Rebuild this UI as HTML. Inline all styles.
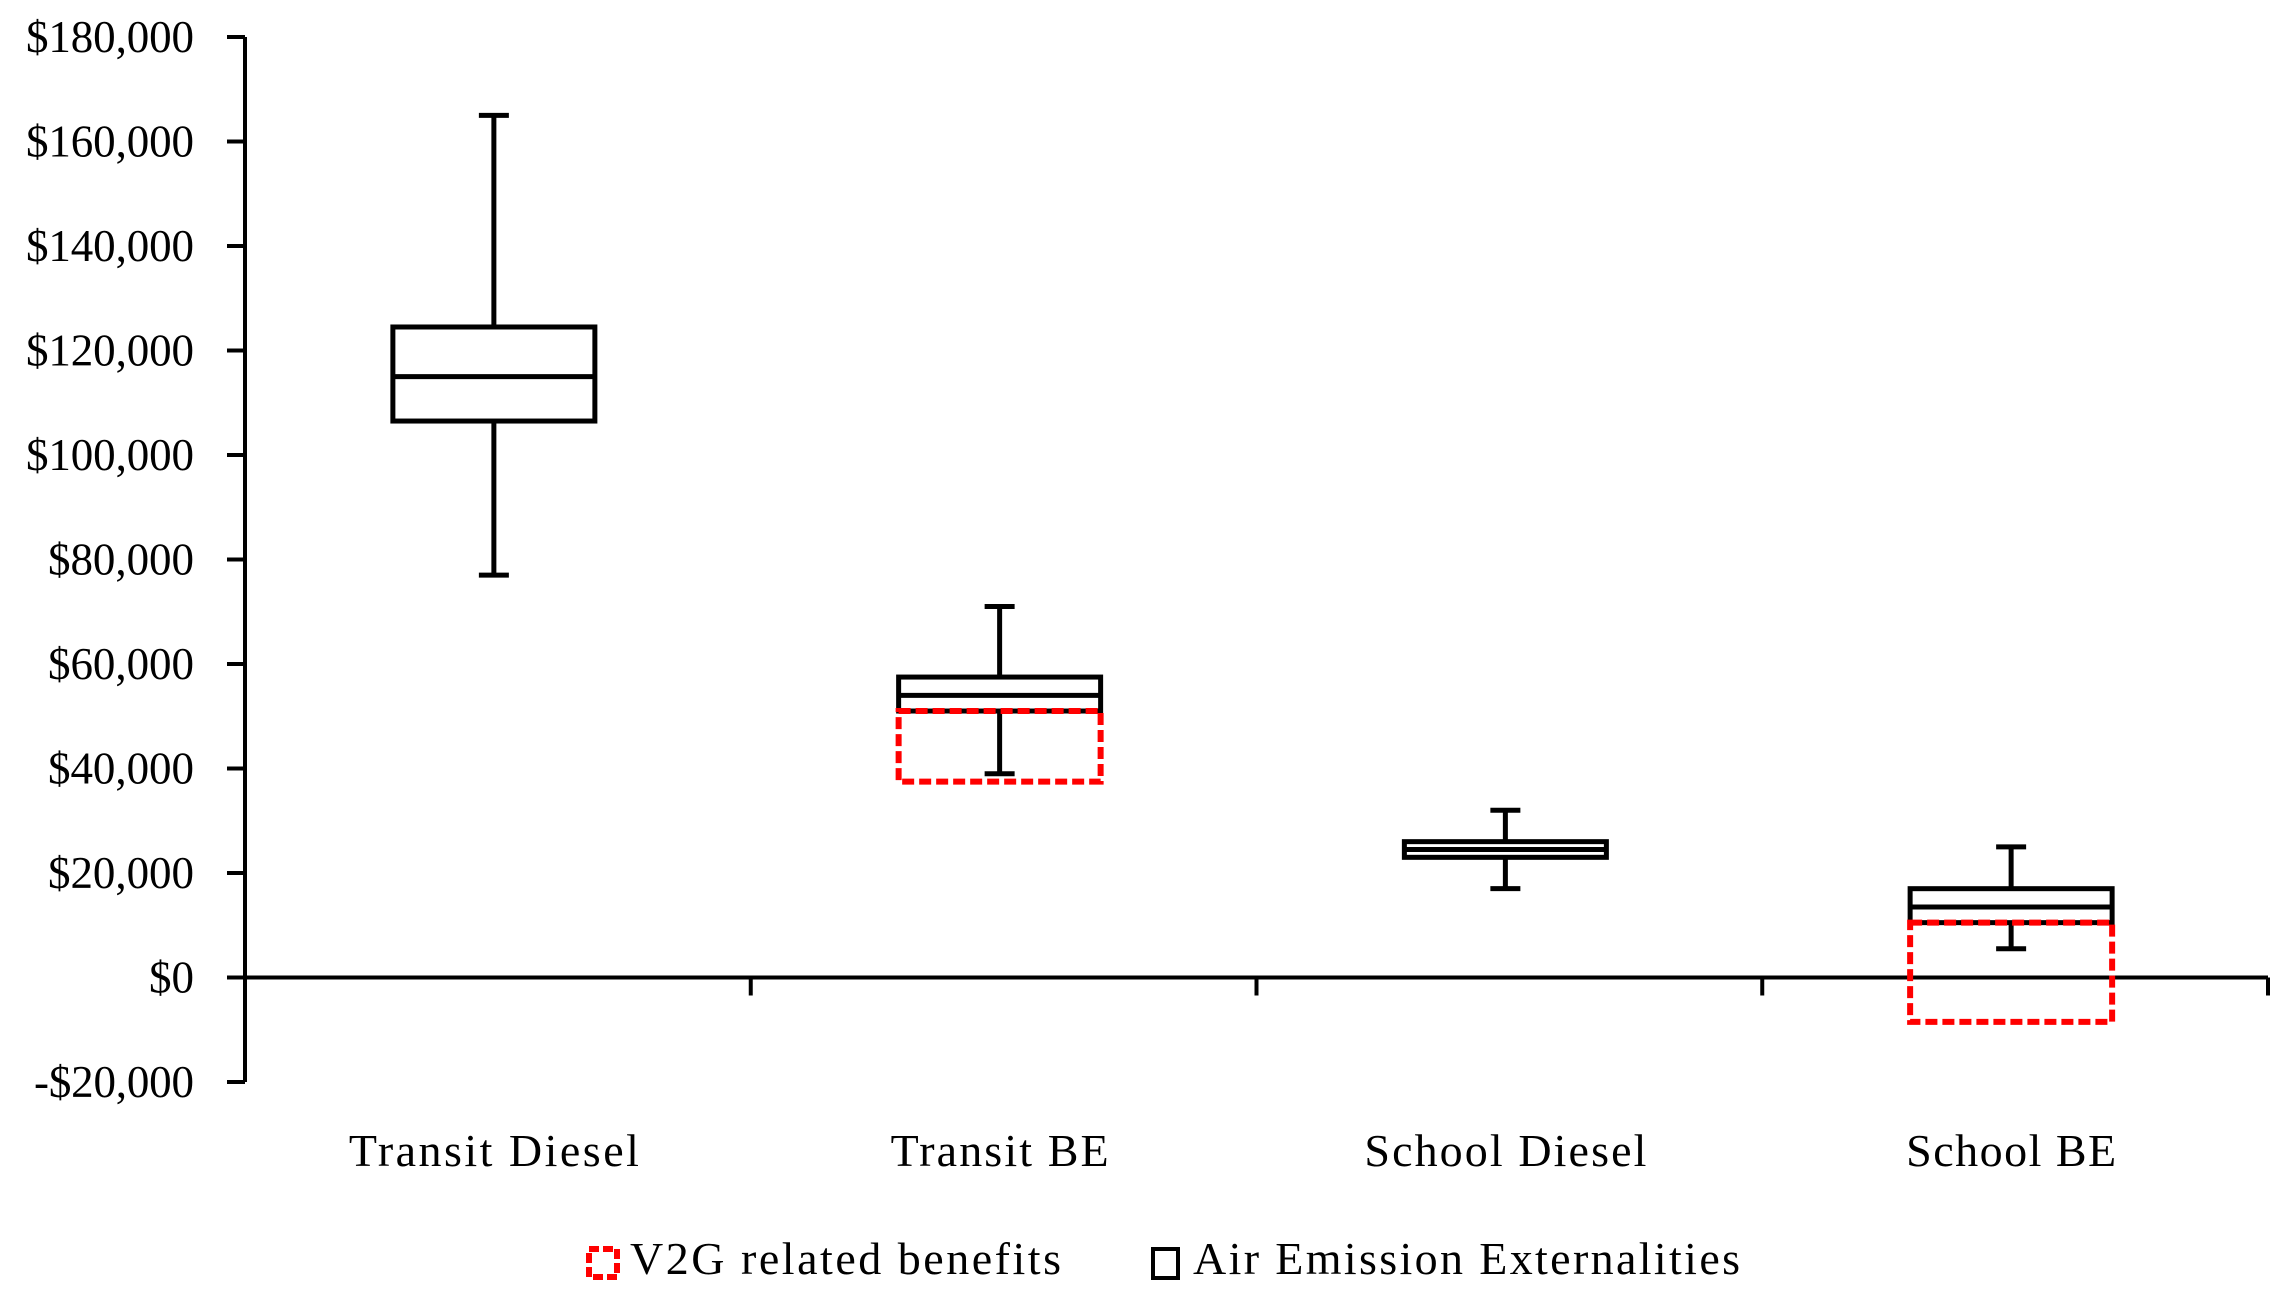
<!DOCTYPE html>
<html><head><meta charset="utf-8"><style>
html,body{margin:0;padding:0;background:#fff;}
svg{display:block;font-family:"Liberation Serif",serif;}
</style></head><body>
<svg id="chart" width="2285" height="1299" viewBox="0 0 2285 1299" xmlns="http://www.w3.org/2000/svg">
<g id="axes"></g><g id="marks"></g>
<g>
<rect x="589" y="1249" width="28" height="28" fill="none" stroke="#f00" stroke-width="6" stroke-dasharray="10,4"/>
<text x="630" y="1274" font-size="46" textLength="431">V2G related benefits</text>
<rect x="1153" y="1249" width="25" height="29" fill="none" stroke="#000" stroke-width="4"/>
<text x="1193" y="1274" font-size="46" textLength="547">Air Emission Externalities</text>
</g>
</svg>
<script>
const categories=["Transit Diesel","Transit BE","School Diesel","School BE"];
const whiskerHigh=[165000,71000,32000,25000];
const q3=[124500,57500,26000,17000];
const median=[115000,54000,24500,13500];
const q1=[106500,51000,23000,10500];
const whiskerLow=[77000,39000,17000,5500];
const v2gTop=[null,51000,null,10500];
const v2gBottom=[null,37500,null,-8500];
const yTicks=[180000,160000,140000,120000,100000,80000,60000,40000,20000,0,-20000];
const tickLabels=["$180,000","$160,000","$140,000","$120,000","$100,000","$80,000","$60,000","$40,000","$20,000","$0","-$20,000"];

const NS="http://www.w3.org/2000/svg";
const X0=245,X1=2268,YTOP=37,YBOT=1082,VMAX=180000,VMIN=-20000;
const y=v=>YTOP+(VMAX-v)/(VMAX-VMIN)*(YBOT-YTOP);
const bw=(X1-X0)/categories.length;
const xc=i=>X0+bw*(i+0.5)-4;
const labelW=[290,218,282,210];
function mk(tag,attrs,parent){const e=document.createElementNS(NS,tag);for(const k in attrs)e.setAttribute(k,attrs[k]);parent.appendChild(e);return e;}
const axes=document.getElementById('axes'),marks=document.getElementById('marks');
let e=mk('line',{x1:X0,y1:YTOP,x2:X0,y2:YBOT,stroke:'#000','stroke-width':4},axes);


e=mk('line',{x1:X0,y1:y(0),x2:X1,y2:y(0),stroke:'#000','stroke-width':4},axes);


yTicks.forEach((t,i)=>{
 let l=mk('line',{x1:X0-18,y1:y(t),x2:X0,y2:y(t),stroke:'#000','stroke-width':4},axes);
 
 
 const n=tickLabels[i].replace(/[^0-9]/g,'').length;
 let tx=mk('text',{x:194,y:y(t)+15,'font-size':45,'text-anchor':'end'},axes);
 if(n>1) tx.setAttribute('textLength', n*22+ (tickLabels[i].includes(',')?12:0) + 24 + (tickLabels[i][0]==='-'?14:0));
 tx.textContent=tickLabels[i];
 
 
});
for(let i=1;i<=categories.length;i++){
 let l=mk('line',{x1:X0+bw*i,y1:y(0),x2:X0+bw*i,y2:y(0)+18,stroke:'#000','stroke-width':4},axes);
 
 
}
const BW=202,CAP=30;
categories.forEach((c,i)=>{
 const cx=xc(i);
 let tx=mk('text',{x:cx,y:1166,'font-size':46,'text-anchor':'middle',textLength:labelW[i]},axes);
 tx.textContent=c;
 
 
 const g=mk('g',{},marks);
 
 
 const s={stroke:'#000','stroke-width':5,fill:'none'};
 mk('line',Object.assign({x1:cx,y1:y(whiskerHigh[i]),x2:cx,y2:y(q3[i])},s),g);
 mk('line',Object.assign({x1:cx,y1:y(whiskerLow[i]),x2:cx,y2:y(q1[i])},s),g);
 mk('line',Object.assign({x1:cx-CAP/2,y1:y(whiskerHigh[i]),x2:cx+CAP/2,y2:y(whiskerHigh[i])},s),g);
 mk('line',Object.assign({x1:cx-CAP/2,y1:y(whiskerLow[i]),x2:cx+CAP/2,y2:y(whiskerLow[i])},s),g);
 mk('rect',Object.assign({x:cx-BW/2,y:y(q3[i]),width:BW,height:y(q1[i])-y(q3[i])},s,{fill:'#fff'}),g);
 mk('line',Object.assign({x1:cx-BW/2,y1:y(median[i]),x2:cx+BW/2,y2:y(median[i])},s),g);
 if(v2gTop[i]!==null){
  const r=mk('rect',{x:cx-BW/2,y:y(v2gTop[i]),width:BW,height:y(v2gBottom[i])-y(v2gTop[i]),fill:'none',stroke:'#f00','stroke-width':6,'stroke-dasharray':'12,5'},marks);
  
  
 }
});
</script>
</body></html>
